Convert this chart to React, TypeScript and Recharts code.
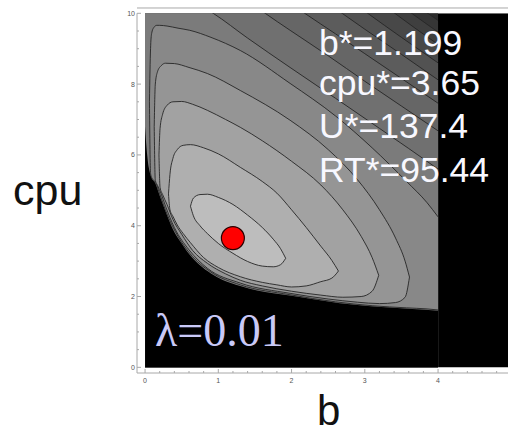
import { Area, ComposedChart, ReferenceLine, Scatter, XAxis, YAxis } from "recharts";

// lower edge of the feasible (gray) region
const fB = [0, 0.02, 0.05, 0.08, 0.14, 0.2, 0.28, 0.38, 0.5, 0.61, 0.75, 0.9, 1.06, 1.3, 1.53, 1.75, 2.0, 2.3, 2.66, 3.0, 3.34, 3.65, 4.0];
const fCpu = [6.8, 6.2, 5.65, 5.4, 5.2, 4.85, 4.4, 3.9, 3.5, 3.18, 2.88, 2.65, 2.47, 2.3, 2.17, 2.09, 2.02, 1.92, 1.81, 1.74, 1.69, 1.65, 1.6];

// closed contours around the optimum, innermost first (b, lower cpu, upper cpu)
const l1B = [0.62, 0.66, 0.75, 0.85, 1.0, 1.2, 1.4, 1.6, 1.75, 1.85, 1.92];
const l1Lo = [4.55, 4.28, 4.0, 3.78, 3.5, 3.22, 2.99, 2.86, 2.84, 2.9, 3.08];
const l1Hi = [4.55, 4.78, 4.88, 4.89, 4.8, 4.6, 4.3, 3.95, 3.62, 3.35, 3.08];

const l2B = [0.32, 0.34, 0.38, 0.44, 0.52, 0.62, 0.8, 1.0, 1.3, 1.6, 1.8, 2.0, 2.2, 2.4, 2.55, 2.64];
const l2Lo = [4.9, 4.45, 4.27, 4.02, 3.78, 3.52, 3.1, 2.82, 2.56, 2.4, 2.33, 2.27, 2.3, 2.42, 2.52, 2.72];
const l2Hi = [4.9, 5.45, 5.9, 6.15, 6.27, 6.29, 6.2, 6.03, 5.65, 5.25, 4.92, 4.45, 3.95, 3.42, 3.02, 2.72];

const l3B = [0.19, 0.205, 0.24, 0.3, 0.38, 0.5, 0.65, 0.85, 1.1, 1.3, 1.6, 2.0, 2.4, 2.7, 2.95, 3.1, 3.19];
const l3Lo = [6.0, 5.08, 4.88, 4.6, 4.18, 3.76, 3.3, 2.94, 2.64, 2.46, 2.3, 2.15, 2.04, 1.98, 2.0, 2.15, 2.6];
const l3Hi = [6.0, 6.75, 7.15, 7.4, 7.5, 7.51, 7.43, 7.26, 7.0, 6.78, 6.4, 5.82, 5.15, 4.45, 3.7, 3.1, 2.6];

const l4B = [0.125, 0.14, 0.17, 0.22, 0.28, 0.4, 0.6, 0.85, 1.3, 1.98, 2.5, 2.9, 3.2, 3.42, 3.55, 3.61];
const l4Lo = [6.8, 5.28, 5.14, 4.9, 4.55, 3.95, 3.32, 2.8, 2.38, 2.09, 1.93, 1.84, 1.8, 1.83, 1.98, 2.55];
const l4Hi = [6.8, 8.0, 8.35, 8.52, 8.59, 8.58, 8.47, 8.3, 7.82, 6.98, 6.15, 5.3, 4.45, 3.65, 3.0, 2.55];

const l5B = [0.06, 0.075, 0.09, 0.12, 0.16, 0.2, 0.3, 0.45, 0.61, 0.9, 1.3, 1.98, 2.6, 3.1, 3.57, 3.85, 4.0];
const l5Lo = [7.5, 5.48, 5.36, 5.28, 5.14, 4.9, 4.33, 3.7, 3.22, 2.69, 2.33, 2.05, 1.85, 1.74, 1.68, 1.65, 1.62];
const l5Hi = [7.5, 9.0, 9.43, 9.6, 9.66, 9.66, 9.64, 9.58, 9.52, 9.32, 8.95, 8.02, 7.1, 6.2, 5.25, 4.65, 4.25];

// outer contours that run off the top edge (upper branch only)
const l6B = [0, 0.5, 0.93, 1.4, 1.98, 2.6, 3.2, 3.6, 4.0];
const l6Hi = [10.9, 10.5, 10.0, 9.3, 8.47, 7.6, 6.75, 6.18, 5.6];
const l7B = [0, 1.0, 1.64, 1.98, 2.5, 3.0, 3.5, 4.0];
const l7Hi = [12, 11, 10, 9.52, 8.8, 8.08, 7.38, 6.68];
const l8B = [0, 1.5, 2.18, 2.6, 3.0, 3.5, 4.0];
const l8Hi = [12.5, 11, 10, 9.42, 8.86, 8.16, 7.46];
const l9B = [0, 2.0, 2.69, 3.0, 3.5, 4.0];
const l9Hi = [13, 11, 10, 9.55, 8.84, 8.12];
const l10B = [0, 2.4, 3.04, 3.5, 4.0];
const l10Hi = [13.5, 11, 10, 9.32, 8.6];
const l11B = [0, 2.8, 3.41, 3.7, 4.0];
const l11Hi = [14, 11, 10, 9.56, 9.12];
const l12B = [0, 3.0, 3.64, 4.0];
const l12Hi = [14, 11, 10, 9.47];
const l13B = [0, 3.2, 3.86, 4.0];
const l13Hi = [14, 11, 10, 9.8];

const optimum = [{ b: 1.199, cpu: 3.65 }];

const xTicks = [0, 0.2, 0.4, 0.6, 0.8, 1, 1.2, 1.4, 1.6, 1.8, 2, 2.2, 2.4, 2.6, 2.8, 3, 3.2, 3.4, 3.6, 3.8, 4, 4.2, 4.4, 4.6, 4.8];
const xLabels = [0, 1, 2, 3, 4];
const yTicks = [0, 0.5, 1, 1.5, 2, 2.5, 3, 3.5, 4, 4.5, 5, 5.5, 6, 6.5, 7, 7.5, 8, 8.5, 9, 9.5, 10];
const yLabels = [0, 2, 4, 6, 8, 10];

const readout = ["b*=1.199", "cpu*=3.65", "U*=137.4", "RT*=95.44"];
const readoutY = [55, 95, 138, 182];

const range = (b: number[], lo: number[], hi: number[]) => b.map((v, i) => ({ b: v, r: [lo[i], hi[i]] }));
const line = (b: number[], hi: number[]) => b.map((v, i) => ({ b: v, v: hi[i] }));

const outer = [
  { b: l13B, hi: l13Hi, fill: "#363636" },
  { b: l12B, hi: l12Hi, fill: "#3f3f3f" },
  { b: l11B, hi: l11Hi, fill: "#484848" },
  { b: l10B, hi: l10Hi, fill: "#525252" },
  { b: l9B, hi: l9Hi, fill: "#5c5c5c" },
  { b: l8B, hi: l8Hi, fill: "#666666" },
  { b: l7B, hi: l7Hi, fill: "#707070" },
  { b: l6B, hi: l6Hi, fill: "#7b7b7b" },
];

const inner = [
  { b: l5B, lo: l5Lo, hi: l5Hi, fill: "#888888" },
  { b: l4B, lo: l4Lo, hi: l4Hi, fill: "#959595" },
  { b: l3B, lo: l3Lo, hi: l3Hi, fill: "#a2a2a2" },
  { b: l2B, lo: l2Lo, hi: l2Hi, fill: "#afafaf" },
  { b: l1B, lo: l1Lo, hi: l1Hi, fill: "#bdbdbd" },
];

const LINE = "#262626";
const FRAME = "#a8a8a8";

function XTick({ x, y, payload }: any) {
  const v = payload.value;
  const major = xLabels.includes(v);
  return (
    <g>
      <line x1={x} x2={x} y1={y} y2={y - (major ? 4 : 2)} stroke={FRAME} />
      {major && (
        <text x={x} y={y + 10} textAnchor="middle" fontSize={7} fill="#555" fontFamily="Liberation Sans">
          {v}
        </text>
      )}
    </g>
  );
}

function YTick({ x, y, payload }: any) {
  const v = payload.value;
  const major = yLabels.includes(v);
  return (
    <g>
      <line x1={x} x2={x + (major ? 4 : 2)} y1={y} y2={y} stroke={FRAME} />
      {major && (
        <text x={x - 2} y={y + 2.5} textAnchor="end" fontSize={7} fill="#555" fontFamily="Liberation Sans">
          {v}
        </text>
      )}
    </g>
  );
}

export default function App() {
  return (
    <div style={{ position: "fixed", left: 0, top: 0, width: 508, height: 433, overflow: "hidden", background: "#fff" }}>
      <ComposedChart width={520} height={433} margin={{ top: 13.3, right: 8.7, bottom: 50, left: 127 }}>
        <XAxis
          type="number"
          dataKey="b"
          domain={[-0.11, 5]}
          allowDataOverflow
          ticks={xTicks}
          interval={0}
          height={10}
          tickSize={0}
          tickMargin={0}
          tickLine={false}
          tick={<XTick />}
          axisLine={{ stroke: FRAME }}
        />
        <YAxis
          type="number"
          domain={[-0.16, 10]}
          allowDataOverflow
          ticks={yTicks}
          interval={0}
          width={10}
          tickSize={0}
          tickMargin={0}
          tickLine={false}
          tick={<YTick />}
          axisLine={{ stroke: FRAME }}
        />
        <ReferenceLine y={10.15} ifOverflow="visible" stroke={FRAME} />
        <Area
          data={line([0, 5], [10, 10])}
          dataKey="v"
          baseValue={0}
          fill="#000"
          fillOpacity={1}
          stroke="none"
          isAnimationActive={false}
        />
        <Area
          data={line([0, 4], [10, 10])}
          dataKey="v"
          baseValue={0}
          fill="#2c2c2c"
          fillOpacity={1}
          stroke="none"
          isAnimationActive={false}
        />
        {outer.map((c, i) => (
          <Area
            key={"o" + i}
            data={line(c.b, c.hi)}
            dataKey="v"
            type="monotone"
            baseValue={0}
            fill={c.fill}
            fillOpacity={1}
            stroke={LINE}
            strokeWidth={0.9}
            isAnimationActive={false}
          />
        ))}
        <Area
          data={line(fB, fCpu)}
          dataKey="v"
          type="monotone"
          baseValue={0}
          fill="#000"
          fillOpacity={1}
          stroke="none"
          isAnimationActive={false}
        />
        {inner.map((c, i) => (
          <Area
            key={"i" + i}
            data={range(c.b, c.lo, c.hi)}
            dataKey="r"
            type="monotone"
            fill={c.fill}
            fillOpacity={1}
            stroke={LINE}
            strokeWidth={0.9}
            isAnimationActive={false}
          />
        ))}
        <Scatter
          data={optimum}
          dataKey="cpu"
          isAnimationActive={false}
          shape={(p: any) => <circle cx={p.cx} cy={p.cy} r={11.5} fill="#ff0000" stroke="#2a0000" strokeWidth={1.2} />}
        />
      </ComposedChart>
      <svg width={508} height={433} style={{ position: "absolute", left: 0, top: 0, pointerEvents: "none" }}>
        <text x={13} y={205} fontSize={43} fontFamily="Liberation Sans" fill="#111">
          cpu
        </text>
        <text x={317} y={425} fontSize={42} fontFamily="Liberation Sans" fill="#111">
          b
        </text>
        {readout.map((t, i) => (
          <text key={t} x={319} y={readoutY[i]} fontSize={35.5} fontFamily="Liberation Sans" fill="#f8f8ff">
            {t}
          </text>
        ))}
        <text x={155} y={346} fontSize={46} fontFamily="Liberation Serif" fill="#c9c9f7">
          λ=0.01
        </text>
      </svg>
    </div>
  );
}
